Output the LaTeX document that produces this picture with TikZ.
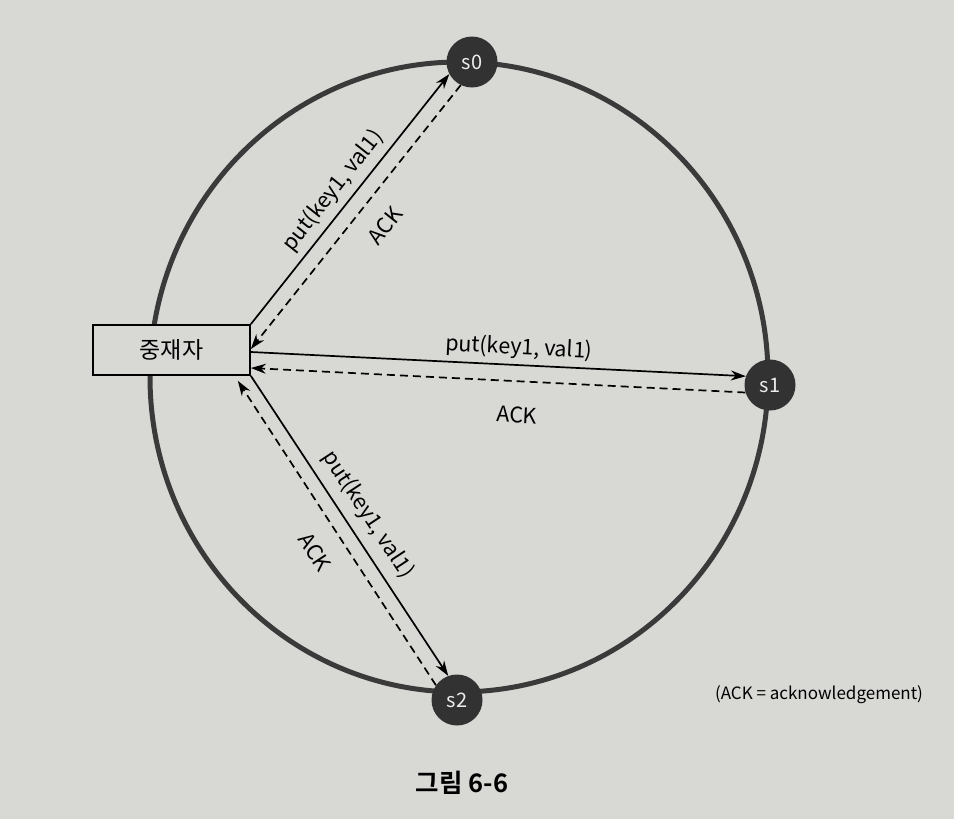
\documentclass[tikz,border=0pt]{standalone}
\usepackage{fontspec}
\setmainfont{Noto Sans CJK KR}[BoldFont={Noto Sans CJK KR Bold}]
\usetikzlibrary{arrows.meta}
\definecolor{bg}{RGB}{216,216,213}
\definecolor{ringc}{RGB}{58,58,58}
\definecolor{nodefill}{RGB}{50,50,50}
\begin{document}
\begin{tikzpicture}[x=1pt,y=-1pt,
  server/.style={circle,fill=nodefill,minimum size=51pt,inner sep=0pt,text=white!85!gray,font=\fontsize{20}{22}\selectfont},
  req/.style={line width=1.7pt,-{Stealth[length=15pt,width=10pt]}},
  ack/.style={req,dash pattern=on 8pt off 5pt},
  lbl/.style={font=\fontsize{21.5}{23}\selectfont,inner sep=0pt}]
\fill[bg] (0,0) rectangle (954,819);
\useasboundingbox (0,0) rectangle (954,819);
\draw[ringc,line width=5pt] (459,377) ellipse [x radius=309, y radius=315];
\node[draw,line width=1.7pt,fill=bg,minimum width=157pt,minimum height=50pt,inner sep=0pt,font=\fontsize{23}{25}\selectfont] (box) at (171.5,350) {중재자};
\node[server] (s0) at (472,62) {s0};
\node[server] (s1) at (770,385) {s1};
\node[server] (s2) at (457,700) {s2};
\draw[req] (box.north east) -- (s0.208);
\draw[ack] (s0.244) -- ([yshift=1pt]box.east);
\draw[req] ([yshift=-2pt]box.east) -- (s1.160);
\draw[ack] (s1.197) -- ([yshift=-18pt]box.east);
\draw[req] (box.south east) -- (s2.110);
\draw[ack] (s2.145) -- ([xshift=-13pt,yshift=-5pt]box.south east);
\node[lbl,rotate=51.6] (l0p) at (333,191) {put(key1, val1)};
\node[lbl,rotate=51.6] (l0a) at (385,226) {ACK};
\node[lbl,rotate=-2.9] (l1p) at (519,348) {put(key1, val1)};
\node[lbl,rotate=-2.9] (l1a) at (517,415) {ACK};
\node[lbl,rotate=-56.6] (l2p) at (368,515) {put(key1, val1)};
\node[lbl,rotate=-56.6] (l2a) at (315,552) {ACK};
\node[font=\fontsize{17}{19}\selectfont,inner sep=0pt] (note) at (819,695) {(ACK = acknowledgement)};
\node[font=\bfseries\fontsize{25.5}{27}\selectfont,inner sep=0pt] (cap) at (462,783) {그림 6-6};
\end{tikzpicture}
\end{document}
